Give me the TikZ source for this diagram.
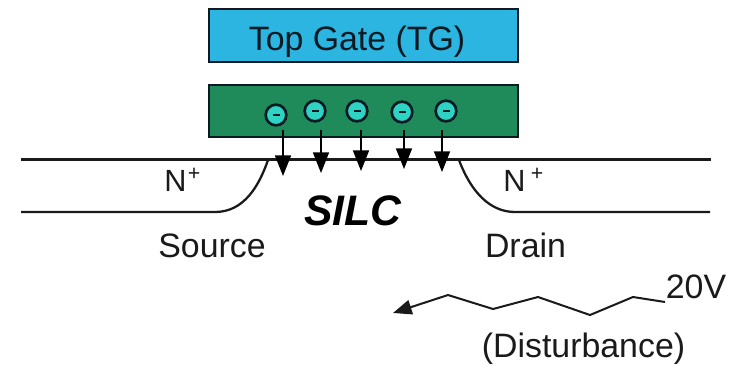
\documentclass[tikz,border=0pt]{standalone}
\usepackage{fontspec}
\setmainfont{Liberation Sans}
\usetikzlibrary{arrows.meta}
\definecolor{tgblue}{HTML}{2BB5E0}
\definecolor{fgreen}{HTML}{1F8B5B}
\definecolor{eteal}{HTML}{2FD3C3}
\definecolor{edge}{HTML}{0A1A22}
\definecolor{ink}{HTML}{1A1A1A}
\tikzset{
  gatebox/.style={draw=edge,line width=1.7pt,minimum width=231.5pt,minimum height=39.5pt,inner sep=0pt,anchor=north west},
  lbl/.style={font=\fontsize{25.4}{30}\selectfont,text=ink,inner sep=0pt,anchor=base},
  nlbl/.style={lbl,font=\fontsize{23}{28}\selectfont},
  plbl/.style={lbl,font=\fontsize{16}{19}\selectfont},
  electron/.style={circle,draw=edge,fill=eteal,line width=2pt,minimum size=15.5pt,inner sep=0pt},
  minusbar/.style={edge,line width=2pt},
  junction/.style={ink,line width=1.7pt},
  tunnel/.style={draw=black,line width=1.3pt,-{Triangle[length=15.5pt,width=12pt]}},
  wave/.style={draw=ink,line width=1.5pt,-{Triangle[length=14pt,width=11pt]}}
}
\begin{document}
\begin{tikzpicture}[x=0.75pt,y=-0.75pt]
\useasboundingbox[fill=white] (0,0) rectangle (738,365);
\node[gatebox,fill=tgblue] (tg) at (208,8) {};
\node[lbl,text=edge] (tgl) at (357,50) {Top Gate (TG)};
\node[gatebox,fill=fgreen] (fg) at (208,83.5) {};
% junction lines
\coordinate (t1) at (21,159.5); \coordinate (t2) at (711,159.5);
\coordinate (sl) at (21,212); \coordinate (sj) at (215,212); \coordinate (st) at (268,160);
\coordinate (dl) at (710,212); \coordinate (dj) at (515,212); \coordinate (dt) at (459,160);
\draw[junction] (t1) -- (t2);
\draw[junction] (sl) -- (sj) .. controls (244,212) and (259,186) .. (st);
\draw[junction] (dl) -- (dj) .. controls (490,212) and (471,192) .. (dt);
% electrons
\foreach \n/\x/\y in {1/276/115,2/315/111,3/357/111,4/402/112,5/446/111}{
  \node[electron] (e\n) at (\x,\y) {};
  \draw[minusbar] (\x-3.5,\y) -- (\x+3.5,\y);
}
% tunnelling arrows
\foreach \n/\x/\tip in {1/283/176,2/321/173,3/361/171,4/404/169,5/442/172}{
  \coordinate (as\n) at (\x,130);
  \coordinate (at\n) at (\x,\tip);
  \draw[tunnel] (as\n) -- (at\n);
}
% labels
\node[nlbl] (nl) at (175.5,191) {N};
\node[plbl] (nlp) at (194,180) {+};
\node[nlbl] (nr) at (514.5,191) {N};
\node[plbl] (nrp) at (537,180) {+};
\node[lbl,font=\bfseries\itshape\fontsize{32}{38}\selectfont,text=black] (silc) at (353,225) {SILC};
\node[lbl] (src) at (212,257) {Source};
\node[lbl] (drn) at (525.5,257) {Drain};
\node[lbl] (v20) at (696,298) {20V};
\node[lbl] (dist) at (583.5,357) {(Disturbance)};
% disturbance path
\coordinate (w0) at (665,302);
\coordinate (w1) at (633,297);
\coordinate (w2) at (590,315);
\coordinate (w3) at (538,297);
\coordinate (w4) at (493,309);
\coordinate (w5) at (448,295);
\coordinate (w6) at (393,313);
\draw[wave] (w0) -- (w1) -- (w2) -- (w3) -- (w4) -- (w5) -- (w6);
\end{tikzpicture}
\end{document}
